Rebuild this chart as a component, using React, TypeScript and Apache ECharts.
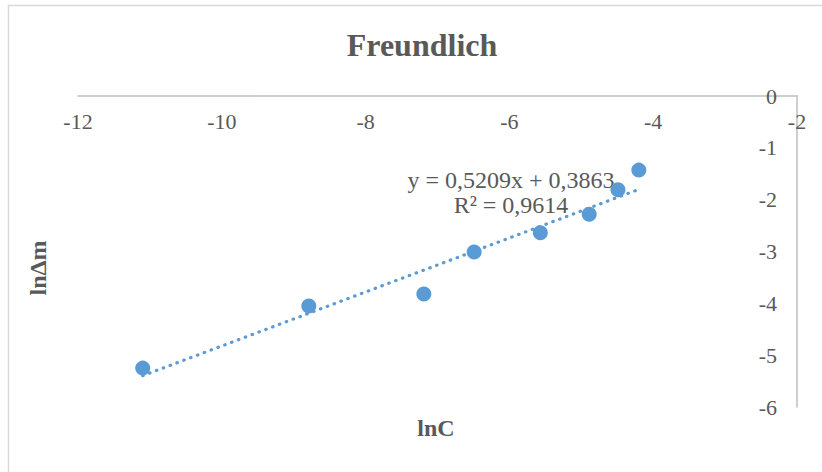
import React, { useEffect, useRef } from "react";
import * as echarts from "echarts";

const lnC = [-11.1, -8.79, -7.19, -6.49, -5.57, -4.89, -4.49, -4.2];
const lnDm = [-5.25, -4.05, -3.82, -3.01, -2.64, -2.28, -1.81, -1.43];
const slope = 0.5209;
const intercept = 0.3863;
const equationText = "y = 0,5209x + 0,3863";
const r2Text = "R² = 0,9614";
const titleText = "Freundlich";
const xName = "lnC";
const yName = "lnΔm";

const FONT = "'Liberation Serif', 'Times New Roman', serif";
const TXT = "#595959";
const BLUE = "#5B9BD5";

export default function App() {
  const ref = useRef<HTMLDivElement>(null);
  useEffect(() => {
    if (!ref.current) return;
    const chart = echarts.init(ref.current, undefined, { renderer: "svg" });
    const xmin = Math.min(...lnC);
    const xmax = Math.max(...lnC);
    const trend = [
      [xmin, slope * xmin + intercept],
      [xmax, slope * xmax + intercept],
    ];
    chart.setOption({
      animation: false,
      backgroundColor: "#ffffff",
      grid: { left: 78, right: 25, top: 96, bottom: 65 },
      xAxis: {
        type: "value",
        min: -12,
        max: -2,
        interval: 2,
        position: "top",
        axisLine: { show: true, onZero: false, lineStyle: { color: "#BFBFBF", width: 1.5 } },
        axisTick: { show: false },
        splitLine: { show: false },
        axisLabel: {
          inside: true,
          margin: 14,
          color: TXT,
          fontSize: 22,
          fontFamily: FONT,
        },
      },
      yAxis: {
        type: "value",
        min: -6,
        max: 0,
        interval: 1,
        position: "right",
        axisLine: { show: true, onZero: false, lineStyle: { color: "#BFBFBF", width: 1.5 } },
        axisTick: { show: false },
        splitLine: { show: false },
        axisLabel: {
          inside: true,
          margin: 20,
          color: TXT,
          fontSize: 22,
          fontFamily: FONT,
        },
      },
      series: [
        {
          type: "scatter",
          data: lnC.map((x, i) => [x, lnDm[i]]),
          symbolSize: 15,
          itemStyle: { color: BLUE, opacity: 1 },
          z: 2,
        },
        {
          type: "line",
          data: trend,
          showSymbol: false,
          symbol: "none",
          lineStyle: { color: BLUE, width: 3.2, type: [0.5, 6.8], cap: "round" },
          z: 3,
        },
      ],
      graphic: [
        {
          type: "rect",
          shape: { x: 8.5, y: 5.5, width: 900, height: 600 },
          style: { fill: "none", stroke: "#D9D9D9", lineWidth: 1.5 },
          z: -1,
        },
        {
          type: "text",
          x: 422,
          y: 45,
          style: {
            text: titleText,
            font: `bold 32px ${FONT}`,
            fill: TXT,
            textAlign: "center",
            textVerticalAlign: "middle",
          },
        },
        {
          type: "text",
          x: 436,
          y: 428,
          style: {
            text: xName,
            font: `bold 24px ${FONT}`,
            fill: TXT,
            textAlign: "center",
            textVerticalAlign: "middle",
          },
        },
        {
          type: "text",
          x: 38,
          y: 268,
          rotation: Math.PI / 2,
          style: {
            text: yName,
            font: `bold 24px ${FONT}`,
            fill: TXT,
            textAlign: "center",
            textVerticalAlign: "middle",
          },
        },
        {
          type: "text",
          x: 511,
          y: 180,
          style: {
            text: equationText,
            font: `24px ${FONT}`,
            fill: TXT,
            textAlign: "center",
            textVerticalAlign: "middle",
          },
        },
        {
          type: "text",
          x: 511,
          y: 205,
          style: {
            text: r2Text,
            font: `24px ${FONT}`,
            fill: TXT,
            textAlign: "center",
            textVerticalAlign: "middle",
          },
        },
      ],
    });
    return () => chart.dispose();
  }, []);
  return (
    <div
      ref={ref}
      style={{ position: "fixed", left: 0, top: 0, width: 822, height: 472 }}
    />
  );
}
